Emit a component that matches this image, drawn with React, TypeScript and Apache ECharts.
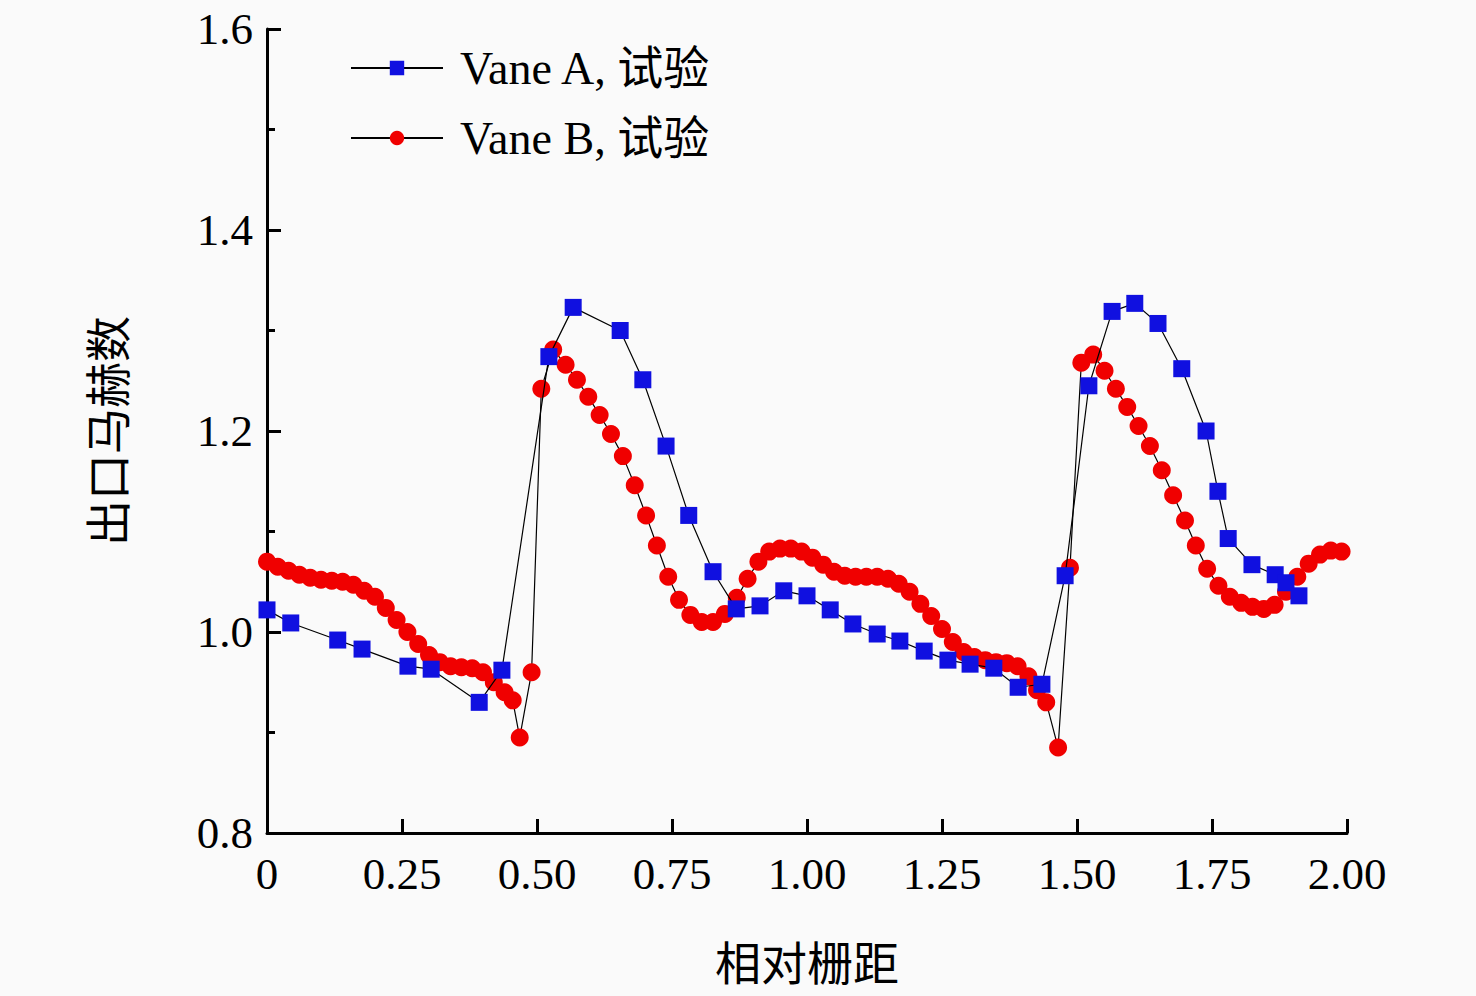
import { useEffect, useRef } from 'react'
import * as echarts from 'echarts'

const vaneAX = [0, 0.044, 0.131, 0.176, 0.261, 0.304, 0.393, 0.435, 0.522, 0.567, 0.654, 0.696, 0.739, 0.781, 0.826, 0.869, 0.913, 0.957, 1.0, 1.043, 1.085, 1.13, 1.172, 1.217, 1.261, 1.302, 1.346, 1.391, 1.435, 1.478, 1.522, 1.565, 1.607, 1.65, 1.694, 1.739, 1.761, 1.78, 1.824, 1.867, 1.887, 1.911]
const vaneAY = [1.022, 1.009, 0.992, 0.983, 0.966, 0.963, 0.93, 0.962, 1.274, 1.323, 1.3, 1.251, 1.185, 1.116, 1.06, 1.023, 1.026, 1.041, 1.036, 1.022, 1.008, 0.998, 0.991, 0.981, 0.972, 0.968, 0.964, 0.945, 0.948, 1.056, 1.245, 1.319, 1.327, 1.307, 1.262, 1.2, 1.14, 1.093, 1.067, 1.057, 1.049, 1.036]

const vaneBX = [0, 0.02, 0.04, 0.06, 0.08, 0.1, 0.12, 0.14, 0.16, 0.18, 0.2, 0.22, 0.24, 0.26, 0.28, 0.3, 0.32, 0.34, 0.36, 0.38, 0.4, 0.42, 0.44, 0.455, 0.468, 0.49, 0.508, 0.53, 0.553, 0.574, 0.595, 0.616, 0.637, 0.659, 0.681, 0.702, 0.722, 0.743, 0.763, 0.784, 0.805, 0.826, 0.848, 0.87, 0.89, 0.91, 0.93, 0.95, 0.97, 0.99, 1.01, 1.03, 1.05, 1.07, 1.09, 1.11, 1.13, 1.15, 1.17, 1.19, 1.21, 1.23, 1.25, 1.27, 1.29, 1.31, 1.33, 1.35, 1.37, 1.39, 1.41, 1.426, 1.443, 1.465, 1.487, 1.508, 1.53, 1.551, 1.572, 1.593, 1.614, 1.635, 1.657, 1.678, 1.7, 1.72, 1.741, 1.762, 1.783, 1.804, 1.825, 1.846, 1.866, 1.887, 1.908, 1.929, 1.95, 1.97, 1.99]
const vaneBY = [1.07, 1.065, 1.061, 1.057, 1.054, 1.052, 1.051, 1.05, 1.047, 1.041, 1.035, 1.024, 1.012, 1.0, 0.988, 0.977, 0.97, 0.966, 0.965, 0.964, 0.96, 0.95, 0.94, 0.932, 0.895, 0.96, 1.242, 1.281, 1.266, 1.251, 1.234, 1.216, 1.197, 1.175, 1.146, 1.116, 1.086, 1.055, 1.032, 1.017, 1.01, 1.01, 1.018, 1.034, 1.053, 1.07, 1.08, 1.083, 1.083, 1.08, 1.074, 1.067, 1.06, 1.056, 1.055, 1.055, 1.055, 1.053, 1.048, 1.04, 1.028, 1.016, 1.003, 0.99, 0.98, 0.975, 0.972, 0.97, 0.969, 0.966, 0.956, 0.942, 0.93, 0.885, 1.064, 1.268, 1.276, 1.26, 1.242, 1.224, 1.205, 1.185, 1.161, 1.136, 1.111, 1.086, 1.063, 1.046, 1.035, 1.029, 1.025, 1.023, 1.027, 1.04, 1.055, 1.068, 1.077, 1.081, 1.08]

const FONT = '"Liberation Serif", "Noto Sans CJK SC", serif'

export default function App() {
  const chartRef = useRef<HTMLDivElement>(null)

  useEffect(() => {
    if (!chartRef.current) return
    const chart = echarts.init(chartRef.current, null, { renderer: 'svg' })
    const axisText = { fontFamily: FONT, fontSize: 45, color: '#000' }
    const option: any = {
      animation: false,
      backgroundColor: '#fafafa',
      grid: { left: 267, right: 129, top: 29, bottom: 163 },
      legend: {
        left: 345,
        top: 40,
        orient: 'vertical',
        itemWidth: 92,
        itemHeight: 18,
        itemGap: 24,
        textStyle: { fontFamily: FONT, fontSize: 46, color: '#000', padding: [0, 0, 0, 12] },
        data: ['Vane A, 试验', 'Vane B, 试验'],
      },
      xAxis: {
        type: 'value',
        min: 0,
        max: 2,
        interval: 0.25,
        name: '相对栅距',
        nameLocation: 'middle',
        nameGap: 108,
        nameTextStyle: { ...axisText, fontSize: 46 },
        axisLine: { lineStyle: { color: '#000', width: 3 } },
        axisTick: { inside: true, length: 14, lineStyle: { width: 3, color: '#000' } },
        axisLabel: { ...axisText, margin: 18, formatter: (v: number) => (v === 0 ? '0' : v.toFixed(2)) },
        splitLine: { show: false },
      },
      yAxis: {
        type: 'value',
        min: 0.8,
        max: 1.6,
        interval: 0.2,
        name: '出口马赫数',
        nameLocation: 'middle',
        nameGap: 135,
        nameRotate: 90,
        nameTextStyle: { ...axisText, fontSize: 46 },
        axisLine: { show: true, lineStyle: { color: '#000', width: 3 } },
        axisTick: { inside: true, length: 14, lineStyle: { width: 3, color: '#000' } },
        minorTick: { show: true, splitNumber: 2, length: 8, lineStyle: { width: 3, color: '#000' } },
        axisLabel: { ...axisText, margin: 14, formatter: (v: number) => v.toFixed(1) },
        splitLine: { show: false },
      },
      series: [
        {
          name: 'Vane A, 试验',
          type: 'line',
          data: vaneAX.map((x, i) => [x, vaneAY[i]]),
          symbol: 'rect',
          symbolSize: 17,
          itemStyle: { color: '#1010e0' },
          lineStyle: { color: '#000', width: 1.2 },
          z: 3,
        },
        {
          name: 'Vane B, 试验',
          type: 'line',
          data: vaneBX.map((x, i) => [x, vaneBY[i]]),
          symbol: 'circle',
          symbolSize: 18,
          itemStyle: { color: '#f00000' },
          lineStyle: { color: '#000', width: 1.2 },
          z: 2,
        },
      ],
    }
    chart.setOption(option)
    return () => chart.dispose()
  }, [])

  return <div ref={chartRef} style={{ position: 'fixed', left: 0, top: 0, width: 1476, height: 996 }} />
}
